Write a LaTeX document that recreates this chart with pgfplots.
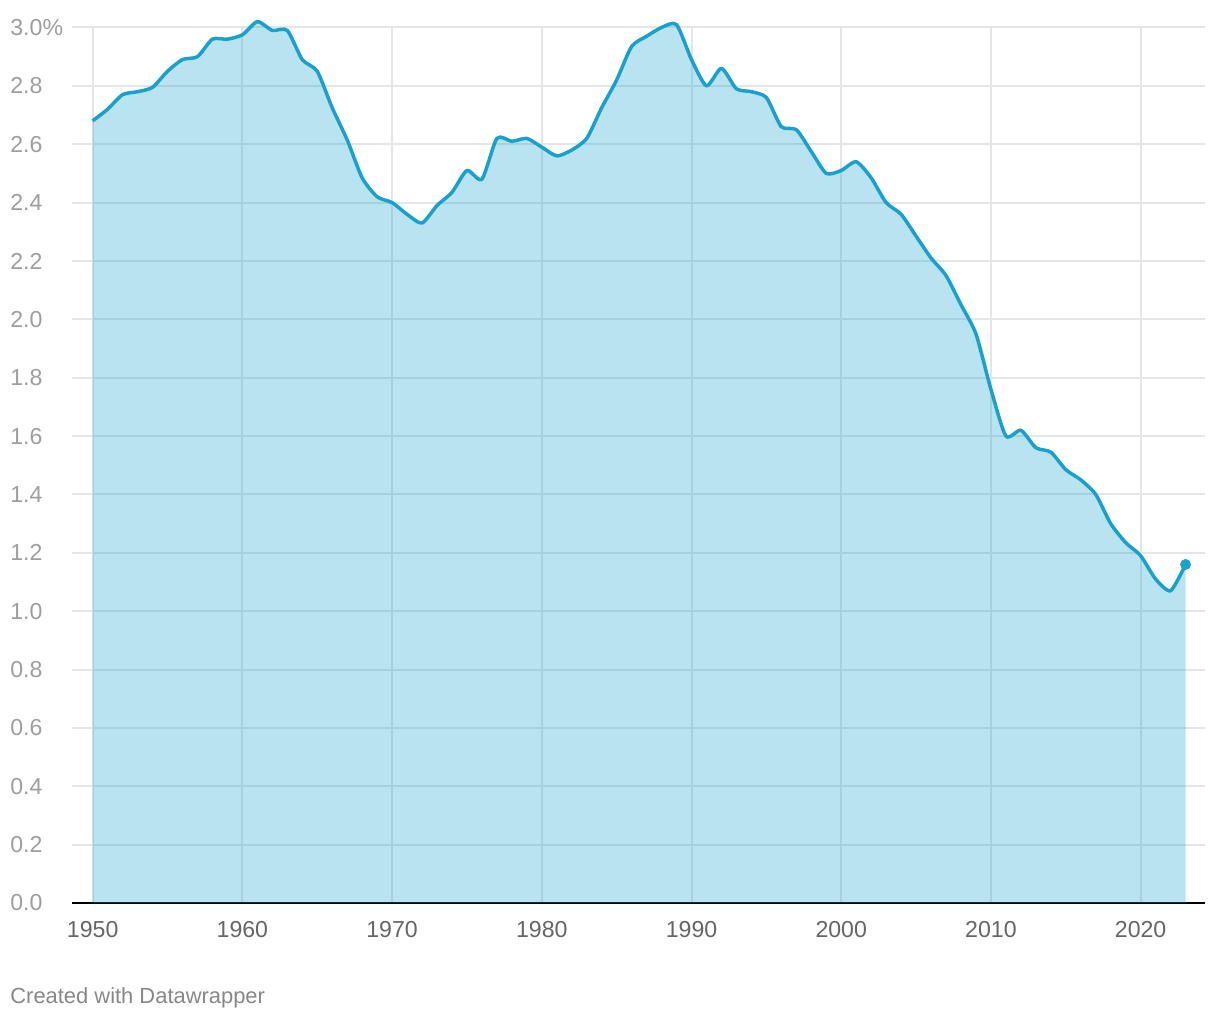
\documentclass[border=0pt]{standalone}
\usepackage{pgfplots}
\pgfplotsset{compat=1.18}
\usepackage{fontspec}
\setmainfont{Liberation Sans}
\definecolor{dwline}{RGB}{24,161,205}
\definecolor{dwgrid}{RGB}{229,229,229}
\definecolor{ylab}{RGB}{158,158,158}
\definecolor{xlab}{RGB}{102,102,102}
\definecolor{credit}{RGB}{135,135,135}
\begin{document}
\begin{tikzpicture}
\path[use as bounding box] (-36bp,-58.5bp) rectangle (574bp,451.5bp);
\begin{axis}[
  at={(0,0)}, anchor=origin,
  scale only axis,
  width=566.5bp, height=437.75bp,
  xmin=1948.62, xmax=2024.3,
  ymin=0, ymax=3.0,
  axis x line*=bottom,
  axis y line*=left,
  x axis line style={black, line width=1.2bp, -},
  y axis line style={draw=none},
  xtick={1950,1960,1970,1980,1990,2000,2010,2020},
  xticklabels={1950,1960,1970,1980,1990,2000,2010,2020},
  ytick={0,0.2,0.4,0.6,0.8,1.0,1.2,1.4,1.6,1.8,2.0,2.2,2.4,2.6,2.8,3.0},
  yticklabels={0.0,0.2,0.4,0.6,0.8,1.0,1.2,1.4,1.6,1.8,2.0,2.2,2.4,2.6,2.8,3.0\%},
  major tick length=0pt,
  tick style={draw=none},
  xmajorgrids, ymajorgrids,
  grid style={dwgrid, line width=1bp},
  xticklabel style={anchor=north, inner sep=0pt, yshift=-9bp, text=xlab, font=\fontsize{11.6}{14}\selectfont},
  yticklabel style={anchor=west, inner sep=0pt, xshift=-31bp, text=ylab, font=\fontsize{11.6}{14}\selectfont},
  clip=false,
]
\addplot[draw=none, fill=dwline, fill opacity=0.3, smooth, tension=0.4] coordinates {
(1950,2.68)(1951,2.72)(1952,2.77)(1953,2.78)(1954,2.795)(1955,2.85)(1956,2.89)(1957,2.90)(1958,2.96)(1959,2.96)
(1960,2.975)(1961,3.02)(1962,2.99)(1963,2.99)(1964,2.89)(1965,2.85)(1966,2.725)(1967,2.615)(1968,2.485)(1969,2.42)
(1970,2.40)(1971,2.36)(1972,2.33)(1973,2.39)(1974,2.435)(1975,2.51)(1976,2.48)(1977,2.62)(1978,2.61)(1979,2.62)
(1980,2.59)(1981,2.56)(1982,2.58)(1983,2.62)(1984,2.725)(1985,2.82)(1986,2.935)(1987,2.97)(1988,3.00)(1989,3.01)
(1990,2.89)(1991,2.80)(1992,2.86)(1993,2.79)(1994,2.78)(1995,2.76)(1996,2.66)(1997,2.65)(1998,2.575)(1999,2.50)
(2000,2.51)(2001,2.54)(2002,2.485)(2003,2.40)(2004,2.36)(2005,2.285)(2006,2.21)(2007,2.15)(2008,2.05)(2009,1.95)
(2010,1.76)(2011,1.60)(2012,1.62)(2013,1.56)(2014,1.545)(2015,1.485)(2016,1.45)(2017,1.40)(2018,1.30)(2019,1.235)
(2020,1.19)(2021,1.11)(2022,1.07)(2023,1.16)
} \closedcycle;
\addplot[dwline, line width=1.75bp, smooth, tension=0.4, line join=round] coordinates {
(1950,2.68)(1951,2.72)(1952,2.77)(1953,2.78)(1954,2.795)(1955,2.85)(1956,2.89)(1957,2.90)(1958,2.96)(1959,2.96)
(1960,2.975)(1961,3.02)(1962,2.99)(1963,2.99)(1964,2.89)(1965,2.85)(1966,2.725)(1967,2.615)(1968,2.485)(1969,2.42)
(1970,2.40)(1971,2.36)(1972,2.33)(1973,2.39)(1974,2.435)(1975,2.51)(1976,2.48)(1977,2.62)(1978,2.61)(1979,2.62)
(1980,2.59)(1981,2.56)(1982,2.58)(1983,2.62)(1984,2.725)(1985,2.82)(1986,2.935)(1987,2.97)(1988,3.00)(1989,3.01)
(1990,2.89)(1991,2.80)(1992,2.86)(1993,2.79)(1994,2.78)(1995,2.76)(1996,2.66)(1997,2.65)(1998,2.575)(1999,2.50)
(2000,2.51)(2001,2.54)(2002,2.485)(2003,2.40)(2004,2.36)(2005,2.285)(2006,2.21)(2007,2.15)(2008,2.05)(2009,1.95)
(2010,1.76)(2011,1.60)(2012,1.62)(2013,1.56)(2014,1.545)(2015,1.485)(2016,1.45)(2017,1.40)(2018,1.30)(2019,1.235)
(2020,1.19)(2021,1.11)(2022,1.07)(2023,1.16)
};
\addplot[only marks, mark=*, mark size=2.5bp, dwline] coordinates {(2023,1.16)};
\end{axis}
\node[anchor=base west, inner sep=0pt, text=credit, font=\fontsize{11}{13}\selectfont] at (-31bp,-50bp) {Created with Datawrapper};
\end{tikzpicture}
\end{document}
